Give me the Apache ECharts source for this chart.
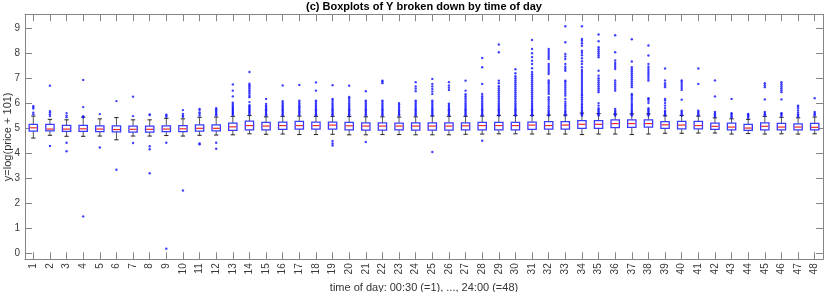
<!DOCTYPE html>
<html><head><meta charset="utf-8">
<script src="https://cdn.jsdelivr.net/npm/echarts@6/dist/echarts.min.js"></script>
<style>html,body{margin:0;padding:0;background:#fff}#c{width:824px;height:292px}</style>
</head><body><div id="c"></div>
<script>
const categories = ['1','2','3','4','5','6','7','8','9','10','11','12','13','14','15','16','17','18','19','20','21','22','23','24','25','26','27','28','29','30','31','32','33','34','35','36','37','38','39','40','41','42','43','44','45','46','47','48'];
const whiskerLow = [4.6,4.71,4.67,4.67,4.68,4.53,4.68,4.68,4.7,4.68,4.71,4.72,4.73,4.77,4.75,4.76,4.74,4.74,4.75,4.73,4.73,4.74,4.74,4.73,4.73,4.73,4.75,4.76,4.77,4.77,4.76,4.76,4.76,4.74,4.76,4.76,4.74,4.76,4.79,4.79,4.8,4.8,4.76,4.78,4.76,4.77,4.76,4.77];
const q1 = [4.88,4.89,4.87,4.87,4.86,4.85,4.84,4.84,4.86,4.86,4.88,4.89,4.91,4.93,4.93,4.95,4.96,4.96,4.96,4.93,4.92,4.92,4.93,4.92,4.92,4.92,4.93,4.93,4.93,4.93,4.95,4.96,4.96,4.99,4.99,5.02,5.03,5.04,4.99,4.97,4.97,4.95,4.93,4.91,4.93,4.93,4.93,4.93];
const median = [5.01,4.96,4.96,4.97,4.96,4.94,4.95,4.95,4.96,4.97,4.99,4.99,5.05,5.1,5.08,5.1,5.1,5.1,5.12,5.09,5.08,5.08,5.08,5.08,5.08,5.08,5.09,5.1,5.1,5.1,5.12,5.1,5.12,5.15,5.15,5.18,5.18,5.18,5.13,5.12,5.1,5.07,5.04,5.0,5.07,5.04,5.04,5.03];
const q3 = [5.15,5.15,5.11,5.11,5.09,5.09,5.08,5.08,5.09,5.1,5.13,5.13,5.2,5.28,5.23,5.24,5.27,5.24,5.24,5.23,5.21,5.21,5.2,5.21,5.21,5.21,5.21,5.23,5.23,5.23,5.24,5.26,5.26,5.3,5.3,5.33,5.33,5.33,5.26,5.27,5.27,5.2,5.2,5.15,5.21,5.19,5.17,5.19];
const whiskerHigh = [5.48,5.35,5.33,5.44,5.37,5.42,5.33,5.33,5.39,5.37,5.43,5.44,5.47,5.5,5.45,5.47,5.48,5.47,5.47,5.46,5.45,5.45,5.44,5.45,5.48,5.47,5.47,5.48,5.5,5.5,5.5,5.52,5.52,5.6,5.58,5.56,5.57,5.57,5.49,5.5,5.48,5.41,5.37,5.35,5.47,5.43,5.41,5.44];
const outliers = [
 [5.55,5.62,5.78,5.84,5.88],
 [4.28,5.48,5.55,5.62,5.68,6.7],
 [4.07,4.41,5.43,5.5,5.6],
 [1.46,5.43,5.48,5.84,6.93],
 [4.22,5.56],
 [3.33,6.08],
 [4.4,5.48,6.26],
 [3.19,4.15,4.27,5.52,5.55],
 [0.16,4.41,5.45,5.5,5.54],
 [2.5,5.45,5.5,5.57,5.72],
 [4.35,4.38,5.5,5.57,5.63,5.72,5.77],
 [4.17,4.41,5.5,5.55,5.6,5.65,5.7,5.75,5.8],
 [5.52,5.56,5.6,5.64,5.68,5.72,5.76,5.8,5.85,5.9,5.96,6.02,6.27,6.5,6.75],
 [5.55,5.6,5.64,5.68,5.72,5.76,5.8,5.84,5.88,5.92,6.04,6.24,6.3,6.38,6.45,6.52,6.6,6.66,6.72,6.78,7.25],
 [5.5,5.55,5.6,5.65,5.7,5.75,5.8,5.85,5.9,5.97,6.17],
 [5.5,5.55,5.6,5.65,5.7,5.75,5.8,5.85,5.9,5.96,6.02,6.08,6.71],
 [5.52,5.57,5.62,5.67,5.72,5.77,5.82,5.87,5.92,5.98,6.04,6.1,6.73],
 [5.5,5.55,5.6,5.65,5.7,5.75,5.8,5.86,5.92,5.98,6.05,6.1,6.5,6.83],
 [4.3,4.38,4.48,5.5,5.55,5.6,5.65,5.7,5.75,5.8,5.86,5.92,5.98,6.05,6.12,6.17,6.72],
 [5.5,5.55,5.6,5.65,5.7,5.75,5.8,5.86,5.92,5.98,6.05,6.12,6.2,6.25,6.7],
 [4.44,5.5,5.55,5.6,5.65,5.7,5.75,5.8,5.86,5.92,5.98,6.05,6.1,6.48],
 [5.5,5.55,5.6,5.65,5.7,5.75,5.8,5.86,5.92,5.98,6.05,6.1,6.8,6.86,6.9],
 [5.5,5.55,5.6,5.65,5.7,5.76,5.82,5.88,5.94,6.0],
 [5.5,5.55,5.6,5.65,5.7,5.75,5.8,5.86,5.92,5.98,6.05,6.1,6.48,6.58,6.67,6.84],
 [4.04,5.5,5.55,5.6,5.65,5.7,5.75,5.8,5.86,5.92,5.98,6.05,6.1,6.37,6.47,6.57,6.67,6.77,6.97],
 [5.5,5.55,5.6,5.65,5.7,5.75,5.8,5.86,5.92,5.98,6.53,6.62,6.71,6.84],
 [5.5,5.55,5.6,5.65,5.7,5.75,5.8,5.86,5.92,5.98,6.05,6.12,6.2,6.28,6.36,6.5,6.9],
 [4.49,5.5,5.55,5.6,5.65,5.7,5.75,5.8,5.86,5.92,5.98,6.05,6.12,6.2,6.28,6.37,6.77,7.44,7.81],
 [5.5,5.55,5.6,5.65,5.7,5.75,5.8,5.86,5.92,5.98,6.05,6.12,6.2,6.28,6.36,6.44,6.52,6.6,6.68,6.8,6.9,8.04,8.35],
 [5.5,5.55,5.6,5.65,5.7,5.75,5.8,5.86,5.92,5.98,6.05,6.12,6.2,6.28,6.36,6.44,6.52,6.6,6.68,6.76,6.84,6.92,7.0,7.08,7.2,7.36],
 [5.5,5.55,5.6,5.65,5.7,5.75,5.8,5.86,5.92,5.98,6.05,6.12,6.2,6.28,6.36,6.44,6.52,6.6,6.68,6.76,6.84,6.92,7.0,7.08,7.16,7.25,7.4,7.57,7.7,7.85,8.0,8.17,8.53],
 [5.5,5.55,5.6,5.65,5.71,5.78,5.85,5.92,6.0,6.08,6.16,6.24,6.37,6.45,6.53,6.61,6.69,6.77,6.84,6.91,7.17,7.25,7.33,7.41,7.49,7.57,7.77,7.85,7.93,8.01,8.09,8.17],
 [5.5,5.55,5.6,5.65,5.7,5.77,5.84,5.91,5.98,6.06,6.17,6.3,6.38,6.46,6.54,6.62,6.7,6.78,6.86,6.9,7.3,7.38,7.46,7.57,7.77,7.87,7.97,8.44,9.08],
 [5.5,5.55,5.6,5.65,5.7,5.76,5.82,5.88,5.94,6.0,6.08,6.16,6.24,6.32,6.37,6.45,6.53,6.61,6.69,6.77,6.85,6.93,7.01,7.09,7.17,7.25,7.33,7.44,7.57,7.68,7.8,7.92,8.02,8.1,8.3,8.4,8.5,8.57,9.08],
 [5.5,5.55,5.6,5.65,5.7,5.75,5.8,5.9,6.0,6.44,6.52,6.6,6.68,6.76,6.84,6.92,7.0,7.1,7.3,7.84,7.92,8.0,8.08,8.16,8.24,8.48,8.75],
 [5.5,5.55,5.6,5.65,5.7,5.77,6.5,6.58,6.66,6.74,6.82,6.91,7.37,7.45,7.53,7.61,7.71,8.04,8.72],
 [5.5,5.55,5.6,5.65,5.7,5.76,5.82,5.88,5.94,6.0,6.08,6.16,6.24,6.32,6.37,6.64,6.72,6.8,6.88,6.96,7.04,7.12,7.2,7.28,7.36,7.44,7.67,8.56],
 [5.5,5.55,5.6,5.65,5.7,5.75,5.8,6.0,6.08,6.16,6.2,6.9,6.98,7.06,7.14,7.22,7.3,7.38,7.46,7.57,7.91,8.31],
 [5.5,5.55,5.6,5.65,5.7,5.8,5.9,6.0,6.1,6.17,6.64,6.72,6.8,6.91,7.39],
 [5.5,5.55,5.6,5.65,5.7,6.14,6.53,6.61,6.69,6.77,6.85,6.91],
 [5.5,5.55,5.6,5.65,5.7,6.77,7.39],
 [5.45,5.5,5.55,5.6,5.65,6.27,6.91],
 [5.42,5.47,5.52,5.57,5.6,6.17],
 [5.4,5.45,5.5,5.54,5.57],
 [5.5,5.55,5.6,5.65,6.15,6.64,6.72,6.8],
 [5.48,5.53,5.58,5.6,6.15,6.44,6.52,6.6,6.68,6.76,6.84],
 [5.45,5.5,5.55,5.62,5.7,5.78,5.85,5.9],
 [5.5,5.55,5.6,5.65,6.2]
];
const titleText = '(c) Boxplots of Y broken down by time of day';
const xName = 'time of day: 00:30 (=1), ..., 24:00 (=48)';
const yName = 'y=log(price + 101)';

const FONT = 'Liberation Sans, Arial, Helvetica, sans-serif';
const AX = '#858585';
const boxData = categories.map((c, i) => [i, whiskerLow[i], q1[i], median[i], q3[i], whiskerHigh[i]]);
const outlierPts = [];
outliers.forEach((arr, i) => arr.forEach(v => outlierPts.push([i, v])));

const chart = echarts.init(document.getElementById('c'), null, {renderer: 'canvas'});
const yCommon = {
  type: 'value', min: -0.26, max: 9.56, splitNumber: 10,
  splitLine: {show: false},
  axisLine: {show: true, onZero: false, lineStyle: {color: AX, width: 1}},
  axisTick: {show: true, inside: true, length: 7, lineStyle: {color: AX}}
};
chart.setOption({
  animation: false,
  backgroundColor: '#fff',
  title: {text: titleText, left: 424, textAlign: 'center', top: 1, padding: 0,
    textStyle: {fontFamily: FONT, fontSize: 11, fontWeight: 'bold', color: '#000'}},
  graphic: [{type: 'text', x: 7.5, y: 136.8, rotation: Math.PI / 2, silent: true,
    style: {text: yName, align: 'center', verticalAlign: 'middle', textAlign: 'center', textVerticalAlign: 'middle',
      fontFamily: FONT, fontSize: 11, fill: '#333'}}],
  grid: {left: 25, right: 1, top: 14.3, bottom: 32.7, containLabel: false, outerBoundsMode: 'none'},
  xAxis: [
    {type: 'category', data: categories, boundaryGap: true, position: 'bottom',
     axisLine: {show: true, onZero: false, lineStyle: {color: AX}},
     axisTick: {show: true, inside: true, alignWithLabel: true, length: 7, interval: 0, lineStyle: {color: AX}},
     axisLabel: {rotate: 90, interval: 0, margin: 4, fontSize: 10, fontFamily: FONT, color: '#3a3a3a'},
     name: xName, nameLocation: 'middle', nameGap: 21,
     nameTextStyle: {fontFamily: FONT, fontSize: 11, color: '#333'}},
    {type: 'category', data: categories, boundaryGap: true, position: 'top',
     axisLine: {show: true, onZero: false, lineStyle: {color: AX}},
     axisTick: {show: true, inside: true, alignWithLabel: true, length: 7, interval: 0, lineStyle: {color: AX}},
     axisLabel: {show: false}}
  ],
  yAxis: [
    Object.assign({}, yCommon, {position: 'left',
      axisLabel: {show: true, margin: 5, fontSize: 10, fontFamily: FONT, color: '#3a3a3a',
        showMinLabel: false, showMaxLabel: false,
        formatter: v => (Math.abs(v - Math.round(v)) < 1e-6 ? String(Math.round(v)) : '')}}),
    Object.assign({}, yCommon, {position: 'right', axisLabel: {show: false}})
  ],
  series: [
    {type: 'custom', xAxisIndex: 0, yAxisIndex: 0, data: boxData,
     encode: {x: 0, y: [1, 2, 3, 4, 5]},
     renderItem: function (params, api) {
       const x = api.value(0);
       const pLo = api.coord([x, api.value(1)]);
       const pQ1 = api.coord([x, api.value(2)]);
       const pMed = api.coord([x, api.value(3)]);
       const pQ3 = api.coord([x, api.value(4)]);
       const pHi = api.coord([x, api.value(5)]);
       const band = api.size([1, 0])[0];
       const bw = band * 0.5, cw = band * 0.26;
       const cx = pMed[0];
       return {type: 'group', children: [
         {type: 'line', shape: {x1: cx, y1: pQ3[1], x2: cx, y2: pHi[1]}, style: {stroke: '#555', lineWidth: 1}},
         {type: 'line', shape: {x1: cx, y1: pQ1[1], x2: cx, y2: pLo[1]}, style: {stroke: '#555', lineWidth: 1}},
         {type: 'line', shape: {x1: cx - cw / 2, y1: pHi[1], x2: cx + cw / 2, y2: pHi[1]}, style: {stroke: '#222', lineWidth: 1}},
         {type: 'line', shape: {x1: cx - cw / 2, y1: pLo[1], x2: cx + cw / 2, y2: pLo[1]}, style: {stroke: '#222', lineWidth: 1}},
         {type: 'rect', shape: {x: cx - bw / 2, y: pQ3[1], width: bw, height: pQ1[1] - pQ3[1]},
          style: {fill: '#fff', stroke: '#3a3aff', lineWidth: 1.3}},
         {type: 'line', shape: {x1: cx - bw / 2 + 0.6, y1: pMed[1], x2: cx + bw / 2 - 0.6, y2: pMed[1]}, style: {stroke: '#f02828', lineWidth: 1.2}}
       ]};
     }, z: 2},
    {type: 'scatter', xAxisIndex: 0, yAxisIndex: 0, data: outlierPts, symbol: 'circle', symbolSize: 2.4,
     itemStyle: {color: '#1010ff'}, silent: true, z: 3}
  ]
});
</script>
</body></html>
